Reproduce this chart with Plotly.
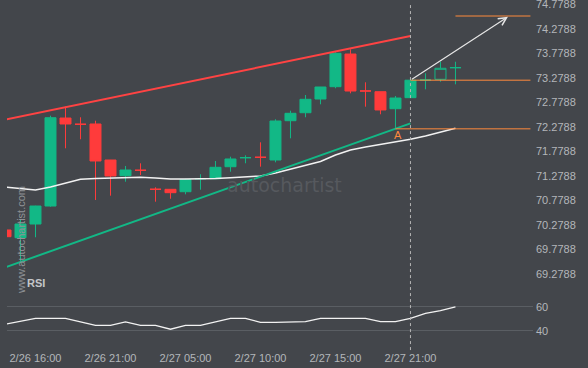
import plotly.graph_objects as go

# ---------------- data ----------------
time_labels = ["2/26 16:00", "2/26 21:00", "2/27 05:00", "2/27 10:00", "2/27 15:00", "2/27 21:00"]
label_idx = [2, 7, 12, 17, 22, 27]
bar_idx = list(range(31))

opens = [70.171, 70.013, 70.293, 70.660, 72.456, 72.330, 72.334, 71.599, 71.279, 71.391,
         71.003, 71.001, 70.952, 71.217, 71.217, 71.462, 71.646, 71.656, 71.599, 72.401,
         72.564, 72.844, 73.095, 73.762, 73.009, 72.993, 72.646, 72.871, 73.231, 73.246, 73.483]
highs = [70.171, 70.375, 70.665, 72.503, 72.687, 72.471, 72.401, 71.600, 71.477, 71.532,
         71.042, 71.002, 71.218, 71.309, 71.579, 71.667, 71.695, 71.960, 72.430, 72.605,
         72.926, 73.090, 73.800, 73.858, 73.185, 72.994, 72.905, 73.233, 73.369, 73.605, 73.605]
lows = [70.034, 69.491, 70.022, 70.646, 71.838, 72.022, 70.783, 70.871, 71.156, 71.293,
        70.748, 70.809, 70.899, 70.993, 71.217, 71.360, 71.532, 71.463, 71.552, 72.042,
        72.471, 72.736, 73.063, 72.960, 72.687, 72.532, 72.235, 72.870, 73.042, 73.197, 73.144]
closes = [70.034, 70.293, 70.660, 72.462, 72.334, 72.328, 71.579, 71.273, 71.395, 71.389,
          71.001, 70.932, 71.201, 71.218, 71.450, 71.620, 71.647, 71.654, 72.395, 72.552,
          72.838, 73.089, 73.777, 73.007, 73.007, 72.620, 72.864, 73.228, 73.232, 73.471, 73.484]
hollow_bars = [29]

ma_values = [71.048, 71.014, 70.987, 71.048, 71.130, 71.205, 71.222, 71.232, 71.238, 71.246,
             71.232, 71.211, 71.211, 71.211, 71.222, 71.236, 71.252, 71.273, 71.334, 71.416,
             71.497, 71.569, 71.701, 71.803, 71.865, 71.916, 71.967, 72.022, 72.089, 72.171, 72.246]

rsi_values = [45.5, 48.0, 50.3, 50.3, 50.3, 47.4, 44.5, 44.5, 47.3, 44.5,
              44.5, 41.2, 44.5, 44.5, 47.3, 50.3, 50.3, 47.0, 47.0, 47.0,
              47.5, 50.3, 50.3, 50.3, 50.3, 47.5, 47.5, 50.3, 54.5, 56.7, 59.8]

resist_x = [0, 27]
resist_y = [72.424, 74.129]
support_x = [0, 27]
support_y = [69.411, 72.347]

level_mid_x = [27, 35]
level_mid = 73.228
level_top_x = [30, 35]
level_top = 74.538
level_low_x = [26, 35]
level_low = 72.235
arrow_end = (33.5, 74.524)
point_A = (26.2, 72.109)
now_idx = 27

price_ticks = [69.2788, 69.7788, 70.2788, 70.7788, 71.2788, 71.7788,
               72.2788, 72.7788, 73.2788, 73.7788, 74.2788, 74.7788]
rsi_ticks = [40, 60]

# ---------------- style ----------------
BG = "#43464b"
GREEN = "#12b886"
RED = "#ff3b3b"
ORANGE = "#ff8a3d"
TXT = "#b3b6ba"
FONT = "Liberation Sans"

fig = go.Figure()

main_i = [i for i in bar_idx if i not in hollow_bars]
fig.add_trace(go.Candlestick(
    x=[bar_idx[i] for i in main_i],
    open=[opens[i] for i in main_i], high=[highs[i] for i in main_i],
    low=[lows[i] for i in main_i], close=[closes[i] for i in main_i],
    increasing=dict(line=dict(color=GREEN, width=1), fillcolor=GREEN),
    decreasing=dict(line=dict(color=RED, width=1), fillcolor=RED),
    whiskerwidth=0, showlegend=False, xaxis="x", yaxis="y"))
fig.add_trace(go.Candlestick(
    x=[bar_idx[i] for i in hollow_bars],
    open=[opens[i] for i in hollow_bars], high=[highs[i] for i in hollow_bars],
    low=[lows[i] for i in hollow_bars], close=[closes[i] for i in hollow_bars],
    increasing=dict(line=dict(color=GREEN, width=1), fillcolor=BG),
    decreasing=dict(line=dict(color=RED, width=1), fillcolor=BG),
    whiskerwidth=0, showlegend=False, xaxis="x", yaxis="y"))

fig.add_trace(go.Scatter(x=bar_idx, y=ma_values, mode="lines",
                         line=dict(color="#f2f2f2", width=1.5), showlegend=False, yaxis="y"))
fig.add_trace(go.Scatter(x=resist_x, y=resist_y, mode="lines",
                         line=dict(color="#ff4343", width=2), showlegend=False, yaxis="y"))
fig.add_trace(go.Scatter(x=support_x, y=support_y, mode="lines",
                         line=dict(color=GREEN, width=2), showlegend=False, yaxis="y"))
for xs, lv in [(level_mid_x, level_mid), (level_top_x, level_top), (level_low_x, level_low)]:
    fig.add_trace(go.Scatter(x=xs, y=[lv, lv], mode="lines",
                             line=dict(color=ORANGE, width=1), showlegend=False, yaxis="y"))

fig.add_trace(go.Scatter(x=bar_idx, y=rsi_values, mode="lines",
                         line=dict(color="#f2f2f2", width=1.3), showlegend=False, yaxis="y2"))

fig.add_annotation(x=arrow_end[0], y=arrow_end[1], ax=now_idx, ay=level_mid,
                   xref="x", yref="y", axref="x", ayref="y", text="",
                   showarrow=True, arrowhead=5, arrowsize=1.3, arrowwidth=1.2,
                   arrowcolor="#e6e6e6")
fig.add_annotation(x=point_A[0], y=point_A[1], xref="x", yref="y", text="A",
                   showarrow=False, font=dict(family=FONT, size=11, color=ORANGE))

fig.add_shape(type="line", xref="x", yref="paper", x0=now_idx, x1=now_idx, y0=-0.006, y1=1,
              line=dict(color="#b5b5b5", width=1, dash="3px,3px"))

# watermarks / labels (positions in pixels, converted to paper below)
fig.add_annotation(x=284, y=185, xref="paper", yref="paper", text="autochartist",
                   showarrow=False, font=dict(family="DejaVu Sans", size=19, color="#56595e"))
fig.add_annotation(x=13, y=296, xref="paper", yref="paper", text="www.autochartist.com",
                   showarrow=False, textangle=-90,
                   font=dict(family=FONT, size=11, color="#8f9296"))
fig.add_annotation(x=25, y=291, xref="paper", yref="paper", text="<b>RSI</b>",
                   showarrow=False, font=dict(family=FONT, size=11, color="#c4c6c9"))

fig.update_layout(
    width=588, height=368,
    margin=dict(l=7, r=55, t=4, b=20, autoexpand=False),
    paper_bgcolor=BG, plot_bgcolor=BG,
    boxgap=0.267, boxgroupgap=0,
    font=dict(family=FONT, size=11, color=TXT),
    xaxis=dict(range=[0.1, 35.17], tickvals=label_idx, ticktext=time_labels,
               showgrid=False, zeroline=False, showline=False, ticks="",
               rangeslider=dict(visible=False), anchor="y2", automargin=False,
               ticklabeloverflow="allow", ticklabelstandoff=2,
               tickfont=dict(family=FONT, size=11, color=TXT)),
    yaxis=dict(domain=[0.2035, 1], range=[69.191, 74.7829], side="right",
               tickvals=price_ticks, ticktext=[f"{v:.4f}" for v in price_ticks],
               showgrid=False, zeroline=False, showline=False, ticks="", automargin=False,
               ticklabelstandoff=2, ticklabeloverflow="allow",
               tickfont=dict(family=FONT, size=11, color=TXT)),
    yaxis2=dict(domain=[0, 0.1977], range=[25.6, 82.2], side="right",
                tickvals=rsi_ticks, showgrid=True, gridcolor="#5a5e63", gridwidth=1,
                zeroline=False, showline=False, ticks="", automargin=False,
                ticklabelstandoff=2, ticklabeloverflow="allow",
                tickfont=dict(family=FONT, size=11, color=TXT)),
)

for ann in fig.layout.annotations:
    if ann.xref == "paper" and ann.x > 1:
        ann.x = (ann.x - 7) / 526
        ann.y = (348 - ann.y) / 344

fig.write_html("out.html", config={"displayModeBar": False},
               post_script="document.body.style.margin='0';document.body.style.overflow='hidden';")
